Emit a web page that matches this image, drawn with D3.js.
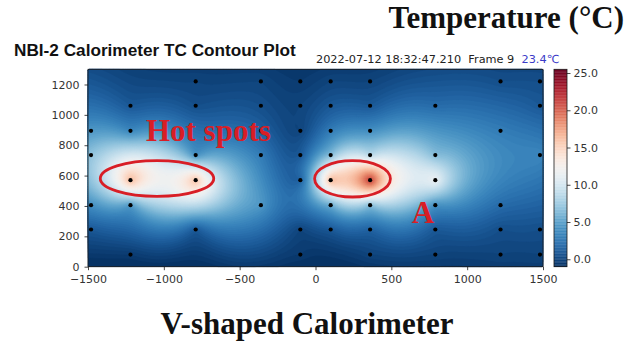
<!DOCTYPE html>
<html>
<head>
<meta charset="utf-8">
<script src="https://cdn.jsdelivr.net/npm/d3@7"></script>
<style>
  body { margin: 0; background: #fff; }
</style>
</head>
<body>
<div id="chart"></div>
<script>

// thermocouple positions (mm) and readings (degC)
var tcX = [-1480, -1480, -1480, -1480,
           -1220, -1220, -1220, -1220, -1220,
           -790, -790, -790, -790, -790,
           -360, -360, -360, -360, -360,
           -100, -100, -100, -100, -100, -100, -100,
           100, 100, 100, 100, 100, 100, 100,
           360, 360, 360, 360, 360, 360, 360, 360,
           790, 790, 790, 790, 790, 790,
           1220, 1220, 1220, 1220, 1220,
           1480, 1480, 1480, 1480, 1480];
var tcY = [895, 735, 405, 245,
           1060, 895, 570, 405, 80,
           1220, 1060, 735, 570, 245,
           1220, 1060, 895, 735, 405,
           1220, 1060, 895, 735, 570, 245, 80,
           1220, 1060, 895, 735, 570, 405, 245,
           1220, 1060, 895, 735, 570, 405, 245, 80,
           1060, 735, 570, 405, 245, 80,
           1220, 895, 405, 245, 80,
           1220, 1060, 735, 245, 80];
var tcTemp = [4.5, 7, 4, 1,
              1, 3.5, 16.5, 4.5, -0.5,
              0, 0.5, 4, 16, 1,
              0, 0.5, 1.5, 3, 4.5,
              -0.5, 0, 0, 1, 1.5, 0, -0.5,
              0, 1, 3, 6.5, 16.5, 5.5, 1,
              0, 1, 4, 8.5, 21.5, 6.5, 1.5, 0,
              2, 6.5, 11.5, 4, 1, 0,
              0.5, 3, 2, 0.5, 0,
              0.5, 1, 3.5, 0.5, 0];

var xTicks = [-1500, -1000, -500, 0, 500, 1000, 1500];
var yTicks = [0, 200, 400, 600, 800, 1000, 1200];
var cbTicks = [0, 5, 10, 15, 20, 25];
var xDomain = [-1500, 1500];
var yDomain = [0, 1300];
var tDomain = [-1, 25.5];

// annotations (data coords)
var spotX = [-1045, 244], spotY = [581, 579], spotRx = [374, 250], spotRy = [118, 120];

var SERIF = "'Liberation Serif', 'Times New Roman', serif";
var SANS = "'DejaVu Sans', sans-serif";

// linear rbf (phi = r), like scipy's Rbf(function='linear')
function makeRbf(px, py, pv) {
    var n = px.length;
    var phi = function(r) { return r; };
    var A = [];
    for (var i = 0; i < n; i++) {
        A[i] = [];
        for (var j = 0; j < n; j++) A[i][j] = phi(Math.hypot(px[i] - px[j], py[i] - py[j]));
        A[i][n] = pv[i];
    }
    for (var c = 0; c < n; c++) {
        var p = c;
        for (var r = c + 1; r < n; r++) if (Math.abs(A[r][c]) > Math.abs(A[p][c])) p = r;
        var t = A[c]; A[c] = A[p]; A[p] = t;
        for (var r = 0; r < n; r++) {
            if (r === c) continue;
            var f = A[r][c] / A[c][c];
            if (f === 0) continue;
            for (var k = c; k <= n; k++) A[r][k] -= f * A[c][k];
        }
    }
    var w = A.map(function(row, i) { return row[n] / row[i]; });
    return function(x, y) {
        var s = 0;
        for (var i = 0; i < n; i++) s += w[i] * phi(Math.hypot(x - px[i], y - py[i]));
        return s;
    };
}

function setup() {
    var W = 630, H = 343;
    var svg = d3.select("#chart").append("svg").attr("width", W).attr("height", H);
    svg.append("rect").attr("width", W).attr("height", H).attr("fill", "#fff");

    var x = d3.scaleLinear().domain(xDomain).range([88, 543]);
    var y = d3.scaleLinear().domain(yDomain).range([266.7, 69.3]);
    var color = d3.scaleSequential(function(t) { return d3.interpolateRdBu(1 - t); }).domain(tDomain);

    // interpolated field on a grid
    var nx = 240, ny = 104;
    var dx = (xDomain[1] - xDomain[0]) / nx, dy = (yDomain[1] - yDomain[0]) / ny;
    var rbf = makeRbf(tcX, tcY, tcTemp);
    var values = new Array(nx * ny);
    for (var j = 0; j < ny; j++)
        for (var i = 0; i < nx; i++) {
            var v = rbf(xDomain[0] + (i + 0.5) * dx, yDomain[1] - (j + 0.5) * dy);
            values[i + j * nx] = Math.max(tDomain[0], Math.min(tDomain[1], v));
        }

    var step = 0.25;
    var levels = d3.range(tDomain[0], tDomain[1], step);
    var contours = d3.contours().size([nx, ny]).thresholds(levels)(values);

    var proj = d3.geoTransform({
        point: function(gx, gy) {
            this.stream.point(x(xDomain[0] + gx * dx), y(yDomain[1] - gy * dy));
        }
    });
    var path = d3.geoPath(proj);

    var plot = svg.append("g");
    plot.append("rect")
        .attr("x", x(xDomain[0])).attr("y", y(yDomain[1]))
        .attr("width", x(xDomain[1]) - x(xDomain[0]))
        .attr("height", y(yDomain[0]) - y(yDomain[1]))
        .attr("fill", color(tDomain[0]));
    plot.selectAll("path.band")
        .data(contours)
        .enter()
        .append("path")
        .attr("class", "band")
        .attr("d", path)
        .attr("fill", function(d) { return color(d.value + step / 2); })
        .attr("stroke", function(d) { return color(d.value + step / 2); })
        .attr("stroke-width", 0.3);

    // thermocouples
    plot.selectAll("circle.tc")
        .data(tcX)
        .enter()
        .append("circle")
        .attr("class", "tc")
        .attr("cx", function(d) { return x(d); })
        .attr("cy", function(d, i) { return y(tcY[i]); })
        .attr("r", 2.1)
        .attr("fill", "#000");

    // frame
    plot.append("rect")
        .attr("x", x(xDomain[0])).attr("y", y(yDomain[1]))
        .attr("width", x(xDomain[1]) - x(xDomain[0]))
        .attr("height", y(yDomain[0]) - y(yDomain[1]))
        .attr("fill", "none").attr("stroke", "#1a1a1a").attr("stroke-width", 0.8);

    var fmtX = d3.format("d");
    var gx = svg.append("g")
        .attr("transform", "translate(0," + y(yDomain[0]) + ")")
        .call(d3.axisBottom(x).tickValues(xTicks).tickSize(3.5).tickPadding(5).tickFormat(fmtX));
    var gy = svg.append("g")
        .attr("transform", "translate(" + x(xDomain[0]) + ",0)")
        .call(d3.axisLeft(y).tickValues(yTicks).tickSize(3.5).tickPadding(5).tickFormat(fmtX));
    [gx, gy].forEach(function(g) {
        g.select(".domain").remove();
        g.selectAll("line").attr("stroke", "#1a1a1a").attr("stroke-width", 0.8);
        g.selectAll("text").attr("fill", "#333")
            .style("font-family", SANS).style("font-size", "11px");
    });

    // colorbar
    var cb = d3.scaleLinear().domain(tDomain).range([266.7, 69.3]);
    var cbx = 554, cbw = 13;
    var cbLevels = d3.range(tDomain[0], tDomain[1], 0.1);
    svg.append("g").selectAll("rect")
        .data(cbLevels)
        .enter()
        .append("rect")
        .attr("x", cbx)
        .attr("y", function(d) { return cb(Math.min(d + 0.1, tDomain[1])); })
        .attr("width", cbw)
        .attr("height", function(d) { return cb(d) - cb(Math.min(d + 0.1, tDomain[1])) + 0.3; })
        .attr("fill", function(d) { return color(d + 0.05); });
    svg.append("rect")
        .attr("x", cbx).attr("y", cb.range()[1]).attr("width", cbw)
        .attr("height", cb.range()[0] - cb.range()[1])
        .attr("fill", "none").attr("stroke", "#1a1a1a").attr("stroke-width", 0.8);
    var gc = svg.append("g")
        .attr("transform", "translate(" + (cbx + cbw) + ",0)")
        .call(d3.axisRight(cb).tickValues(cbTicks).tickSize(3.5).tickPadding(3).tickFormat(d3.format(".1f")));
    gc.select(".domain").remove();
    gc.selectAll("line").attr("stroke", "#1a1a1a").attr("stroke-width", 0.8);
    gc.selectAll("text").attr("fill", "#333").style("font-family", SANS).style("font-size", "11px");

    // titles
    svg.append("text").attr("x", 14).attr("y", 55.5)
        .style("font-family", "'Liberation Sans', Arial, sans-serif").style("font-weight", "bold")
        .style("font-size", "17.2px").attr("fill", "#111")
        .text("NBI-2 Calorimeter TC Contour Plot");
    var info = svg.append("text").attr("x", 316).attr("y", 63)
        .style("font-family", SANS).style("font-size", "11.3px")
        .attr("fill", "#222").attr("xml:space", "preserve");
    info.append("tspan").text("2022-07-12 18:32:47.210  Frame 9  ");
    info.append("tspan").attr("fill", "#3b3bc8").text("23.4\u2103");

    svg.append("text").attr("x", 624).attr("y", 27.5).attr("text-anchor", "end")
        .style("font-family", SERIF).style("font-weight", "bold")
        .style("font-size", "31px").attr("fill", "#111")
        .text("Temperature (\u00B0C)");
    svg.append("text").attr("x", 307).attr("y", 334).attr("text-anchor", "middle")
        .style("font-family", SERIF).style("font-weight", "bold")
        .style("font-size", "31px").attr("fill", "#111")
        .text("V-shaped Calorimeter");

    // hot spot annotations
    var red = "#d81e26";
    svg.append("g").selectAll("ellipse")
        .data(spotX)
        .enter()
        .append("ellipse")
        .attr("cx", function(d) { return x(d); })
        .attr("cy", function(d, i) { return y(spotY[i]); })
        .attr("rx", function(d, i) { return x(spotRx[i]) - x(0); })
        .attr("ry", function(d, i) { return y(0) - y(spotRy[i]); })
        .attr("fill", "none").attr("stroke", red).attr("stroke-width", 2.8);
    svg.append("text").attr("x", x(-1118)).attr("y", y(828))
        .style("font-family", SERIF).style("font-weight", "bold")
        .style("font-size", "31px").attr("fill", red).text("Hot spots");
    svg.append("text").attr("x", x(634)).attr("y", y(286))
        .style("font-family", SERIF).style("font-weight", "bold")
        .style("font-size", "31px").attr("fill", red).text("A");
}

window.addEventListener("load", setup);
</script>
</body>
</html>
